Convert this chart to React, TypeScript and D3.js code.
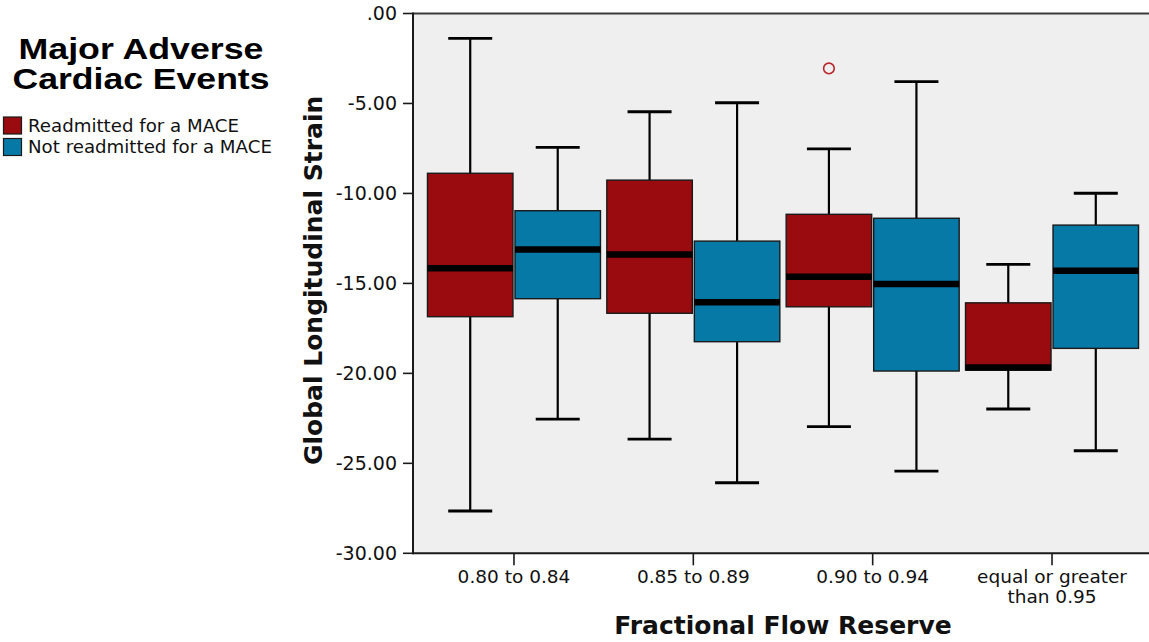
import React from "react";
import * as d3 from "d3";

const categories = ["0.80 to 0.84", "0.85 to 0.89", "0.90 to 0.94", "equal or greater than 0.95"];
const categoryLines = [["0.80 to 0.84"], ["0.85 to 0.89"], ["0.90 to 0.94"], ["equal or greater", "than 0.95"]];
const groups = ["Readmitted for a MACE", "Not readmitted for a MACE"];
const groupColors = ["#9A0B10", "#0779A7"];

// Readmitted for a MACE
const readMin = [-27.65, -23.65, -22.96, -21.98];
const readQ1 = [-16.85, -16.66, -16.3, -19.82];
const readMedian = [-14.16, -13.39, -14.63, -19.67];
const readQ3 = [-8.88, -9.26, -11.16, -16.08];
const readMax = [-1.38, -5.46, -7.52, -13.94];

// Not readmitted for a MACE
const notMin = [-22.54, -26.08, -25.43, -24.3];
const notQ1 = [-15.85, -18.24, -19.87, -18.61];
const notMedian = [-13.11, -16.05, -15.04, -14.3];
const notQ3 = [-10.96, -12.65, -11.38, -11.76];
const notMax = [-7.44, -4.96, -3.79, -9.99];

const outlierCategory = ["0.90 to 0.94"];
const outlierGroup = ["Readmitted for a MACE"];
const outlierValue = [-3.05];

const yTicks = [0, -5, -10, -15, -20, -25, -30];

const W = 1149;
const H = 642;
const plotLeft = 413;
const plotTop = 13.5;
const plotBottom = 553.3;

const fmt = (v: number) => {
  const s = Math.abs(v).toFixed(2);
  const body = s.startsWith("0.") ? s.slice(1) : s;
  return (v < 0 ? "-" : "") + body;
};

export default function App() {
  const y = d3.scaleLinear().domain([0, -30]).range([plotTop, plotBottom]);
  const x = d3.scalePoint<string>().domain(categories).range([413, 1153]).padding(0.563);
  const xi = d3.scaleBand<string>().domain(groups).range([-86.5, 86.5]).paddingInner(0.023);
  const bw = xi.bandwidth();
  const capW = 44;

  const series = [
    { g: groups[0], min: readMin, q1: readQ1, med: readMedian, q3: readQ3, max: readMax, color: groupColors[0] },
    { g: groups[1], min: notMin, q1: notQ1, med: notMedian, q3: notQ3, max: notMax, color: groupColors[1] },
  ];

  const font = "'DejaVu Sans', 'Lucida Grande', sans-serif";

  return (
    <svg width={W} height={H} style={{ position: "absolute", left: 0, top: 0, background: "#fff" }}>
      {/* plot background */}
      <rect x={plotLeft} y={plotTop} width={W - plotLeft} height={plotBottom - plotTop} fill="#EFEFEF" />
      {/* top border */}
      <line x1={plotLeft} x2={W} y1={plotTop} y2={plotTop} stroke="#3a3a3a" strokeWidth={2} />

      {/* boxes */}
      {series.map((s) =>
        categories.map((c, i) => {
          const left = (x(c) as number) + (xi(s.g) as number);
          const cx = left + bw / 2;
          return (
            <g key={s.g + c}>
              <line x1={cx} x2={cx} y1={y(s.max[i])} y2={y(s.q3[i])} stroke="#000" strokeWidth={2.2} />
              <line x1={cx} x2={cx} y1={y(s.q1[i])} y2={y(s.min[i])} stroke="#000" strokeWidth={2.2} />
              <line x1={cx - capW / 2} x2={cx + capW / 2} y1={y(s.max[i])} y2={y(s.max[i])} stroke="#000" strokeWidth={2.8} />
              <line x1={cx - capW / 2} x2={cx + capW / 2} y1={y(s.min[i])} y2={y(s.min[i])} stroke="#000" strokeWidth={2.8} />
              <rect
                x={left}
                y={y(s.q3[i])}
                width={bw}
                height={y(s.q1[i]) - y(s.q3[i])}
                fill={s.color}
                stroke="#1a1a1a"
                strokeWidth={1.4}
              />
              <line x1={left} x2={left + bw} y1={y(s.med[i])} y2={y(s.med[i])} stroke="#000" strokeWidth={6.5} />
            </g>
          );
        })
      )}

      {/* outliers */}
      {outlierValue.map((v, k) => {
        const left = (x(outlierCategory[k]) as number) + (xi(outlierGroup[k]) as number);
        return (
          <circle key={k} cx={left + bw / 2} cy={y(v)} r={5.3} fill="none" stroke="#B8272C" strokeWidth={1.6} />
        );
      })}

      {/* y axis */}
      <line x1={plotLeft} x2={plotLeft} y1={plotTop - 1} y2={plotBottom + 1} stroke="#1a1a1a" strokeWidth={2} />
      {yTicks.map((t) => (
        <g key={t}>
          <line x1={plotLeft - 10} x2={plotLeft} y1={y(t)} y2={y(t)} stroke="#1a1a1a" strokeWidth={1.6} />
          <text
            x={plotLeft - 16}
            y={y(t)}
            dy="0.36em"
            textAnchor="end"
            fontFamily={font}
            fontSize={19}
            fill="#111"
          >
            {fmt(t)}
          </text>
        </g>
      ))}

      {/* x axis */}
      <line x1={plotLeft} x2={W} y1={plotBottom} y2={plotBottom} stroke="#1a1a1a" strokeWidth={2} />
      {categories.map((c, i) => (
        <g key={c}>
          <line x1={x(c) as number} x2={x(c) as number} y1={plotBottom} y2={plotBottom + 12} stroke="#1a1a1a" strokeWidth={1.6} />
          {categoryLines[i].map((ln, j) => (
            <text
              key={j}
              x={x(c) as number}
              y={583 + j * 20}
              textAnchor="middle"
              fontFamily={font}
              fontSize={18.5}
              fill="#111"
            >
              {ln}
            </text>
          ))}
        </g>
      ))}

      {/* axis titles */}
      <text x={783} y={634} textAnchor="middle" fontFamily={font} fontWeight="bold" fontSize={25} fill="#111">
        Fractional Flow Reserve
      </text>
      <text
        transform={`translate(322, ${(plotTop + plotBottom) / 2 - 3}) rotate(-90)`}
        textAnchor="middle"
        fontFamily={font}
        fontWeight="bold"
        fontSize={25}
        fill="#111"
      >
        Global Longitudinal Strain
      </text>

      {/* legend */}
      <text x={141} y={58.5} textAnchor="middle" fontFamily="'Liberation Sans', Arial, sans-serif" fontWeight="bold" fontSize={30} textLength={245} lengthAdjust="spacingAndGlyphs" fill="#000">
        Major Adverse
      </text>
      <text x={141} y={88.5} textAnchor="middle" fontFamily="'Liberation Sans', Arial, sans-serif" fontWeight="bold" fontSize={30} textLength={257} lengthAdjust="spacingAndGlyphs" fill="#000">
        Cardiac Events
      </text>
      {groups.map((g, k) => (
        <g key={g}>
          <rect x={3.5} y={117 + k * 21.5} width={18} height={17} fill={groupColors[k]} stroke="#1a1a1a" strokeWidth={1.2} />
          <text x={28} y={131.5 + k * 21.5} fontFamily={font} fontSize={18.2} fill="#111">
            {g}
          </text>
        </g>
      ))}
    </svg>
  );
}
